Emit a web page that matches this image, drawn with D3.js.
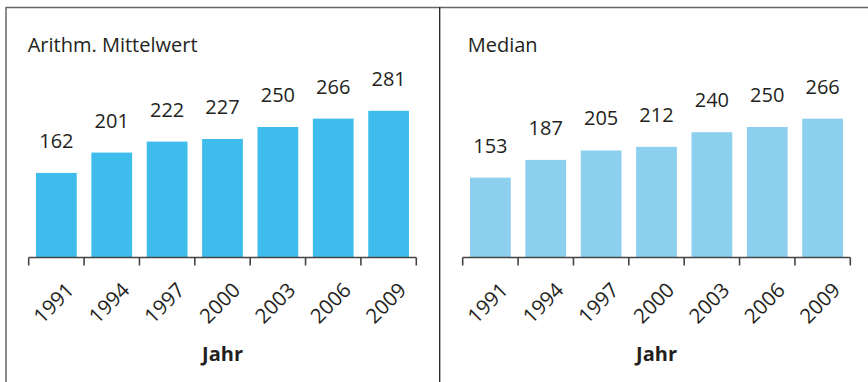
<!DOCTYPE html>
<html><head><meta charset="utf-8">
<script src="https://cdn.jsdelivr.net/npm/d3@7"></script>
<style>body{margin:0;background:#fff}svg{display:block}text{font-family:"Open Sans",sans-serif;fill:#231f20}</style>
</head><body>
<svg id="c" width="868" height="382"></svg>
<script>
const years = ["1991","1994","1997","2000","2003","2006","2009"];
const meanValues = [162,201,222,227,250,266,281];
const medianValues = [153,187,205,212,240,250,266];
const panelTitles = ["Arithm. Mittelwert","Median"];
const axisTitle = "Jahr";

const svg = d3.select("#c");
// frame
svg.append("line").attr("x1",6).attr("x2",868).attr("y1",7.5).attr("y2",7.5).attr("stroke","#666").attr("stroke-width",1.5);
svg.append("line").attr("x1",6).attr("x2",6).attr("y1",7).attr("y2",382).attr("stroke","#666").attr("stroke-width",1.5);
svg.append("line").attr("x1",439.7).attr("x2",439.7).attr("y1",7).attr("y2",382).attr("stroke","#222").attr("stroke-width",1.3);

const y = d3.scaleLinear().domain([0,300]).range([257.5, 257.5-156.6]);

function panel(x0, x1, titleX, title, values, color){
  const g = svg.append("g");
  const x = d3.scaleBand().domain(years).range([x0,x1]).padding(0);
  const step = x.step();
  const inset = step*0.132, bw = step*0.736;
  g.append("text").attr("x",titleX).attr("y",52).attr("font-size",20).text(title);
  g.selectAll("rect").data(values).join("rect")
    .attr("x",(d,i)=>x(years[i])+inset).attr("width",bw)
    .attr("y",d=>y(d)).attr("height",d=>y(0)-y(d)).attr("fill",color);
  g.selectAll("text.v").data(values).join("text").attr("class","v")
    .attr("x",(d,i)=>x(years[i])+step/2).attr("y",d=>y(d)-25)
    .attr("text-anchor","middle").attr("font-size",20).text(d=>d);
  // axis
  const ax = g.append("g");
  ax.append("line").attr("x1",x0).attr("x2",x1).attr("y1",y(0)).attr("y2",y(0)).attr("stroke","#444").attr("stroke-width",1.6);
  const edges = years.map(d=>x(d)).concat([x1]);
  ax.selectAll("line.t").data(edges).join("line").attr("class","t")
    .attr("x1",d=>d).attr("x2",d=>d).attr("y1",y(0)).attr("y2",y(0)+8).attr("stroke","#444").attr("stroke-width",1.6);
  ax.selectAll("text.tl").data(years).join("text").attr("class","tl")
    .attr("text-anchor","end").attr("font-size",20.5)
    .attr("transform",d=>`translate(${x(d)+step/2+19},${y(0)+34}) rotate(-45)`)
    .text(d=>d);
  g.append("text").attr("x",(x0+x1)/2).attr("y",361).attr("text-anchor","middle")
    .attr("font-size",20).attr("font-weight","bold").text(axisTitle);
}
panel(28.7, 416.3, 27.7, panelTitles[0], meanValues, "#3ebcec");
panel(462.7, 850.3, 467.7, panelTitles[1], medianValues, "#8dcfef");
</script>
</body></html>
